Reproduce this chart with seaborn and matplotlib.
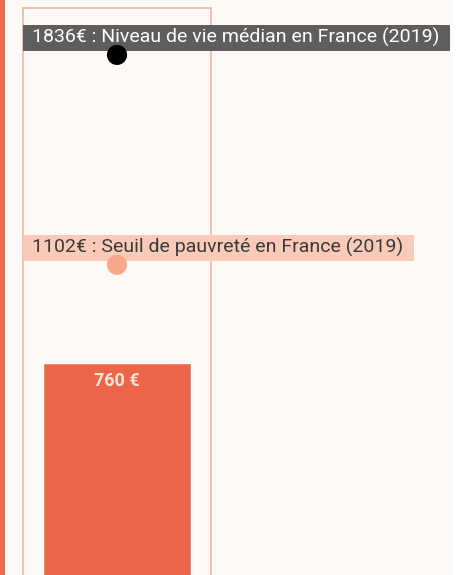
import matplotlib
matplotlib.use("Agg")
import matplotlib.pyplot as plt
import seaborn as sns
import pandas as pd
from matplotlib.patches import Rectangle

# data
categories = ["Revenu"]
values = [760]
bar_labels = ["760 €"]
ref_names = ["Niveau de vie médian en France (2019)", "Seuil de pauvreté en France (2019)"]
ref_values = [1836, 1102]

sns.set_style("white")
plt.rcParams["font.family"] = ["Roboto", "DejaVu Sans"]

bar_color = "#EC6549"
cream = "#FDF9F6"

fig = plt.figure(figsize=(4.6, 5.75), dpi=100)
fig.patch.set_facecolor("white")
fig.patches.append(Rectangle((7 / 460, 0), 446 / 460, 1, transform=fig.transFigure,
                             facecolor=cream, edgecolor="none", zorder=-2))
fig.patches.append(Rectangle((0, 0), 5 / 460, 1, transform=fig.transFigure,
                             facecolor="#EE6B4F", edgecolor="none", zorder=-1))

ax = fig.add_axes([23 / 460, -5 / 575, 188 / 460, 572 / 575])
ax.set_facecolor("none")

df = pd.DataFrame({"cat": categories, "val": values})
sns.barplot(data=df, x="cat", y="val", color=bar_color, width=0.79, saturation=1, ax=ax)
for c in ax.containers:
    ax.bar_label(c, labels=bar_labels, label_type="edge", padding=-20,
                 color="#FCE6DC", fontsize=13, fontweight="bold")

dots = pd.DataFrame({"cat": categories * 2, "val": ref_values, "kind": ["med", "seuil"]})
sns.scatterplot(data=dots, x="cat", y="val", hue="kind",
                palette={"med": "black", "seuil": "#F8A88A"}, s=210,
                edgecolor="none", legend=False, zorder=5, clip_on=False, ax=ax)

ax.set_ylim(0, 2000)
ax.set_xlim(-0.5, 0.5)
ax.set_xlabel("")
ax.set_ylabel("")
ax.set_xticks([])
ax.set_yticks([])
for s in ax.spines.values():
    s.set_color("#F4B4A3")
    s.set_linewidth(1.2)

# labels with boxes sized from the rendered text
box_styles = [("#5E5E5E", "white"), ("#F9CAB8", "#3A3A3A")]
texts = []
for name, v, (bg, fg) in zip(ref_names, ref_values, box_styles):
    t = ax.annotate(f"{v}€ : {name}", xy=(0, v), xycoords=("axes fraction", "data"),
                    xytext=(6.5, 12.3), textcoords="offset points",
                    ha="left", va="center", fontsize=14, color=fg, zorder=4,
                    annotation_clip=False)
    texts.append((t, bg))

fig.canvas.draw()
renderer = fig.canvas.get_renderer()
ax_left = ax.get_window_extent(renderer).x0
for t, bg in texts:
    bb = t.get_window_extent(renderer)
    yc = (bb.y0 + bb.y1) / 2
    ax.add_patch(Rectangle((ax_left, yc - 13), bb.x1 + 11 - ax_left, 26,
                           transform=None, facecolor=bg, edgecolor="none",
                           zorder=3, clip_on=False))

fig.savefig("out.png", dpi=100, facecolor=fig.get_facecolor())
